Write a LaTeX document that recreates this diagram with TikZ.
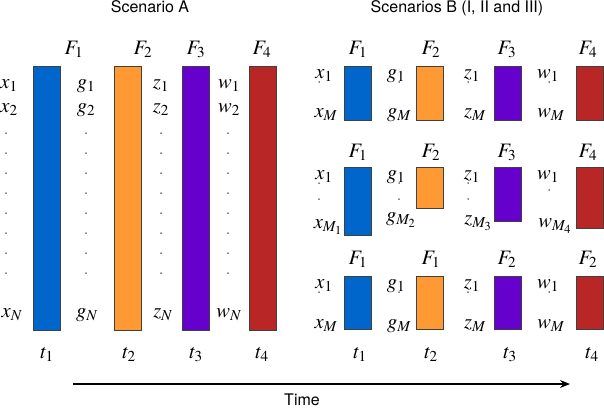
\documentclass[tikz,border=0pt]{standalone}
\usepackage{mathptmx}
\usepackage{fontspec}
\newfontfamily\helv{TeX Gyre Heros}
\usetikzlibrary{arrows.meta}
\definecolor{fblue}{RGB}{0,102,204}
\definecolor{forange}{RGB}{255,153,51}
\definecolor{fpurple}{RGB}{102,0,204}
\definecolor{fred}{RGB}{185,38,38}
\tikzset{every node/.style={inner sep=0pt, font=\fontsize{20.5}{24}\selectfont},
  lbl/.style={anchor=base},
  bar/.style={draw=black!75, line width=0.8pt, anchor=north, minimum width=27pt},
  title/.style={anchor=base, font=\helv\fontsize{16}{19}\selectfont},
  dotcol/.style={line width=1.5pt, line cap=round, dash pattern=on 0pt off #1},
  dotcol/.default=16pt,
  timearrow/.style={line width=1.5pt, -{Stealth[length=10pt,width=8pt]}}}

\begin{document}
\begin{tikzpicture}[x=1pt,y=-1pt]
  \useasboundingbox (0,0) rectangle (604,408);
  % scenario A
  \node[title] (ta) at (150,12) {Scenario A};
  \node[bar, fill=fblue,   minimum height=264pt] (a1) at ( 46.5,66) {};
  \node[bar, fill=forange, minimum height=264pt] (a2) at (127.5,66) {};
  \node[bar, fill=fpurple, minimum height=264pt] (a3) at (195.5,66) {};
  \node[bar, fill=fred,    minimum height=264pt] (a4) at (262.5,66) {};
  \node[lbl] (fa1) at ( 74,54) {$F_1$};
  \node[lbl] (fa2) at (143,54) {$F_2$};
  \node[lbl] (fa3) at (196,54) {$F_3$};
  \node[lbl] (fa4) at (262,54) {$F_4$};
  \node[lbl] (xa1) at (  9,88) {$x_1$};
  \node[lbl] (xa2) at (  9,112) {$x_2$};
  \node[lbl] (xan) at ( 12,317) {$x_N$};
  \node[lbl] (ga1) at ( 86,88) {$g_1$};
  \node[lbl] (ga2) at ( 86,112) {$g_2$};
  \node[lbl] (gan) at ( 87,317) {$g_N$};
  \node[lbl] (za1) at (161,88) {$z_1$};
  \node[lbl] (za2) at (161,112) {$z_2$};
  \node[lbl] (zan) at (163,317) {$z_N$};
  \node[lbl] (wa1) at (229,88) {$w_1$};
  \node[lbl] (wa2) at (229,112) {$w_2$};
  \node[lbl] (wan) at (229,317) {$w_N$};
  \draw[dotcol=20pt] (  6,133) -- (  6,293);
  \draw[dotcol=20pt] ( 86,133) -- ( 86,293);
  \draw[dotcol=20pt] (161,133) -- (161,293);
  \draw[dotcol=20pt] (228,133) -- (228,293);
  \node[lbl] (tA1) at ( 47,358) {$t_1$};
  \node[lbl] (tA2) at (129,358) {$t_2$};
  \node[lbl] (tA3) at (196,358) {$t_3$};
  \node[lbl] (tA4) at (262,358) {$t_4$};
  % scenarios B, first row
  \node[title] (tb) at (457,12) {Scenarios B (I, II and III)};
  \node[bar, fill=fblue,   minimum height=54pt] (b1) at (357.5,66) {};
  \node[bar, fill=forange, minimum height=54pt] (b2) at (430.0,66) {};
  \node[bar, fill=fpurple, minimum height=54pt] (b3) at (507.5,66) {};
  \node[bar, fill=fred,    minimum height=54pt] (b4) at (589.5,66) {};
  \node[lbl] (fb1) at (358,54) {$F_1$};
  \node[lbl] (fb2) at (431,54) {$F_2$};
  \node[lbl] (fb3) at (507,54) {$F_3$};
  \node[lbl] (fb4) at (588,54) {$F_4$};
  \node[lbl] (xb1) at (324,78) {$x_1$};
  \node[lbl] (xbm) at (326,117) {$x_M$};
  \node[lbl] (gb1) at (396,78) {$g_1$};
  \node[lbl] (gbm) at (399,117) {$g_M$};
  \node[lbl] (zb1) at (472,78) {$z_1$};
  \node[lbl] (zbm) at (475,117) {$z_M$};
  \node[lbl] (wb1) at (548,78) {$w_1$};
  \node[lbl] (wbm) at (551,117) {$w_M$};
  \draw[dotcol] (319,82) -- (319,98);
  \draw[dotcol] (399,82) -- (399,98);
  \draw[dotcol] (468,82) -- (468,98);
  \draw[dotcol] (549,82) -- (549,98);
  % second row
  \node[bar, fill=fblue,   minimum height=68pt] (c1) at (357.5,167) {};
  \node[bar, fill=forange, minimum height=41pt] (c2) at (430.0,167) {};
  \node[bar, fill=fpurple, minimum height=54pt] (c3) at (507.5,167) {};
  \node[bar, fill=fred,    minimum height=61pt] (c4) at (589.5,167) {};
  \node[lbl] (fc1) at (358,157) {$F_1$};
  \node[lbl] (fc2) at (431,157) {$F_2$};
  \node[lbl] (fc3) at (507,157) {$F_3$};
  \node[lbl] (fc4) at (588,157) {$F_4$};
  \node[lbl] (xc1) at (324,179) {$x_1$};
  \node[lbl] (xcm) at (328,228) {$x_{M_1}$};
  \node[lbl] (gc1) at (396,179) {$g_1$};
  \node[lbl] (gcm) at (401,221) {$g_{M_2}$};
  \node[lbl] (zc1) at (472,179) {$z_1$};
  \node[lbl] (zcm) at (478,224) {$z_{M_3}$};
  \node[lbl] (wc1) at (548,179) {$w_1$};
  \node[lbl] (wcm) at (555,227) {$w_{M_4}$};
  \draw[dotcol] (319,183) -- (319,215);
  \draw[dotcol] (399,183) -- (399,199);
  \draw[dotcol] (468,183) -- (468,199);
  \draw[dotcol] (549,190) -- (549,206);
  % third row
  \node[bar, fill=fblue,   minimum height=53pt] (d1) at (357.5,276) {};
  \node[bar, fill=forange, minimum height=53pt] (d2) at (430.0,276) {};
  \node[bar, fill=fpurple, minimum height=53pt] (d3) at (507.5,276) {};
  \node[bar, fill=fred,    minimum height=53pt] (d4) at (589.5,276) {};
  \node[lbl] (fd1) at (358,264) {$F_1$};
  \node[lbl] (fd2) at (431,264) {$F_1$};
  \node[lbl] (fd3) at (507,264) {$F_2$};
  \node[lbl] (fd4) at (588,264) {$F_2$};
  \node[lbl] (xd1) at (324,288) {$x_1$};
  \node[lbl] (xdm) at (326,328) {$x_M$};
  \node[lbl] (gd1) at (396,288) {$g_1$};
  \node[lbl] (gdm) at (399,328) {$g_M$};
  \node[lbl] (zd1) at (472,288) {$z_1$};
  \node[lbl] (zdm) at (475,328) {$z_M$};
  \node[lbl] (wd1) at (548,288) {$w_1$};
  \node[lbl] (wdm) at (551,328) {$w_M$};
  \draw[dotcol] (319,292) -- (319,308);
  \draw[dotcol] (399,292) -- (399,308);
  \draw[dotcol] (468,292) -- (468,308);
  \draw[dotcol] (549,292) -- (549,308);
  \node[lbl] (tB1) at (360,358) {$t_1$};
  \node[lbl] (tB2) at (431,358) {$t_2$};
  \node[lbl] (tB3) at (510,358) {$t_3$};
  \node[lbl] (tB4) at (592,358) {$t_4$};
  % time axis
  \coordinate (ts) at (73,384);
  \coordinate (te) at (570,384);
  \draw[timearrow] (ts) -- (te);
  \node[title] (time) at (302,405) {Time};
\end{tikzpicture}
\end{document}
